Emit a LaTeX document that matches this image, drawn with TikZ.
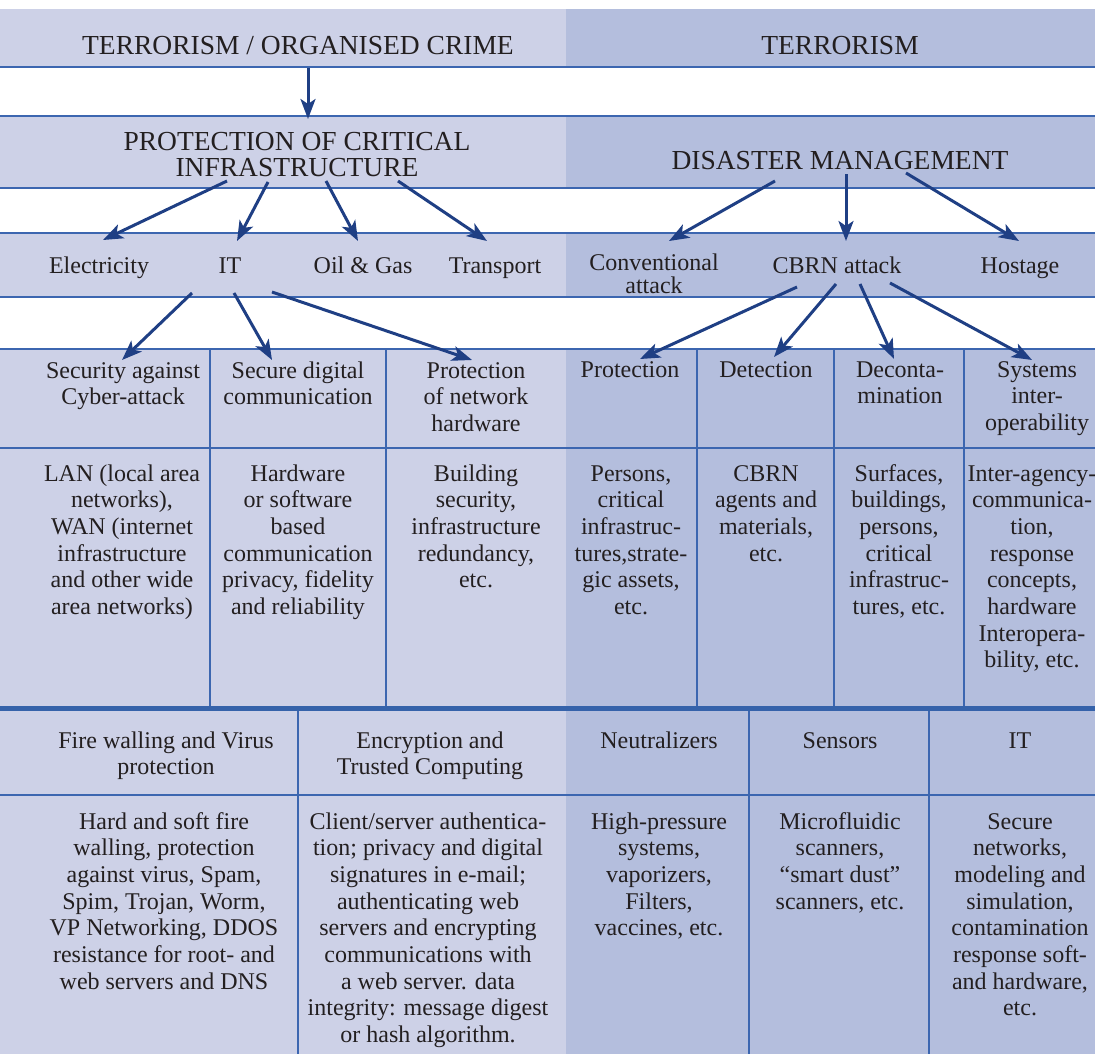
\documentclass[tikz,border=0pt]{standalone}
\usepackage{fontspec}
\setmainfont{Liberation Serif}
\usetikzlibrary{arrows.meta}
\definecolor{lightbg}{HTML}{CDD1E7}
\definecolor{darkbg}{HTML}{B4BEDD}
\definecolor{rulec}{HTML}{3C66B0}
\definecolor{thickc}{HTML}{3562AA}
\definecolor{arrowc}{HTML}{1F3F84}
\definecolor{ink}{HTML}{231F20}
\begin{document}
\begin{tikzpicture}[x=1pt,y=-1pt,
  hline/.style={draw=rulec, line width=1.4pt},
  thickline/.style={draw=thickc, line width=5pt},
  body/.style={font=\fontsize{24}{26.7}\selectfont, text=ink, align=center, inner sep=0pt, anchor=base},
  head/.style={font=\fontsize{27.5}{26}\selectfont, text=ink, align=center, inner sep=0pt, anchor=base},
  arr/.style={draw=arrowc, line width=3pt, -{Stealth[length=20pt,width=15pt,inset=5pt]}},
]
\useasboundingbox (0,0) rectangle (1095,1054);
% background bands
\fill[lightbg] (0,9) rectangle (566,67);
\fill[darkbg] (566,9) rectangle (1095,67);
\fill[lightbg] (0,116) rectangle (566,188);
\fill[darkbg] (566,116) rectangle (1095,188);
\fill[lightbg] (0,233) rectangle (566,297);
\fill[darkbg] (566,233) rectangle (1095,297);
\fill[lightbg] (0,349) rectangle (566,1054);
\fill[darkbg] (566,349) rectangle (1095,1054);
% rules
\foreach \yy in {67,116,188,233,297,349,448,795} \draw[hline] (0,\yy) -- (1095,\yy);
\foreach \xx in {210,386,697,834,964} \draw[hline] (\xx,349) -- (\xx,707);
\foreach \xx in {298,749,929} \draw[hline] (\xx,708) -- (\xx,1054);
\draw[thickline] (0,708.5) -- (1095,708.5);

% (multi-line nodes: anchor=base is the baseline of the last line)
% band 1
\node[head] (t1) at (298,55) {TERRORISM / ORGANISED CRIME};
\node[head] (t2) at (840,55) {TERRORISM};
% band 2
\node[head] (pci) at (297,176) {PROTECTION OF CRITICAL\\INFRASTRUCTURE};
\node[head] (dm) at (840,169) {DISASTER MANAGEMENT};
% band 3
\node[body] (elec) at (99,273) {Electricity};
\node[body] (it) at (230,273) {IT};
\node[body] (oil) at (363,273) {Oil \& Gas};
\node[body] (trans) at (495,273) {Transport};
\node[body, font=\fontsize{24}{23}\selectfont] (conv) at (654,293) {Conventional\\attack};
\node[body] (cbrn) at (837,273) {CBRN attack};
\node[body] (host) at (1020,273) {Hostage};
% band 4
\node[body] (sec) at (123,404.7) {Security against\\Cyber-attack};
\node[body] (sdc) at (298,404.7) {Secure digital\\communication};
\node[body] (pnh) at (476,431.4) {Protection\\of network\\hardware};
\node[body] (prot) at (630,377) {Protection};
\node[body] (det) at (766,377) {Detection};
\node[body] (dec) at (900,403.7) {Deconta-\\mination};
\node[body] (sys) at (1037,430.4) {Systems\\inter-\\operability};
% band 5
\node[body] (lan) at (122,614.5) {LAN (local area\\networks),\\WAN (internet\\infrastructure\\and other wide\\area networks)};
\node[body] (hw) at (298,614.5) {Hardware\\or software\\based\\communication\\privacy, fidelity\\and reliability};
\node[body] (bld) at (476,587.8) {Building\\security,\\infrastructure\\redundancy,\\etc.};
\node[body] (pers) at (631,614.5) {Persons,\\critical\\infrastruc-\\tures,strate-\\gic assets,\\etc.};
\node[body] (agents) at (766,561.1) {CBRN\\agents and\\materials,\\etc.};
\node[body] (surf) at (899,614.5) {Surfaces,\\buildings,\\persons,\\critical\\infrastruc-\\tures, etc.};
\node[body] (inter) at (1032,667.9) {Inter-agency-\\communica-\\tion,\\response\\concepts,\\hardware\\Interopera-\\bility, etc.};
% band 6
\node[body] (fw) at (166,774.7) {Fire walling and Virus\\protection};
\node[body] (enc) at (430,774.7) {Encryption and\\Trusted Computing};
\node[body] (neu) at (659,748) {Neutralizers};
\node[body] (sens) at (840,748) {Sensors};
\node[body] (it2) at (1020,748) {IT};
% band 7
\node[body] (fwd) at (164,989.2) {Hard and soft fire\\walling, protection\\against virus, Spam,\\Spim, Trojan, Worm,\\VP Networking, DDOS\\resistance for root- and\\web servers and DNS};
\node[body] (encd) at (428,1042.6) {Client/server authentica-\\tion; privacy and digital\\signatures in e-mail;\\authenticating web\\servers and encrypting\\communications with\\a web server. data\\integrity: message digest\\or hash algorithm.};
\node[body] (neud) at (659,935.8) {High-pressure\\systems,\\vaporizers,\\Filters,\\vaccines, etc.};
\node[body] (sensd) at (840,909.1) {Microfluidic\\scanners,\\“smart dust”\\scanners, etc.};
\node[body] (itd) at (1020,1015.9) {Secure\\networks,\\modeling and\\simulation,\\contamination\\response soft-\\and hardware,\\etc.};

% connector end points
\coordinate (t1-out) at (308,68);   \coordinate (pci-in) at (308,119);
\coordinate (pci-o1) at (227,181);  \coordinate (elec-in) at (103,240);
\coordinate (pci-o2) at (268,182);  \coordinate (it-in) at (237,241);
\coordinate (pci-o3) at (326,181);  \coordinate (oil-in) at (358,241);
\coordinate (pci-o4) at (398,181);  \coordinate (trans-in) at (487,241);
\coordinate (dm-o1) at (775,181);   \coordinate (conv-in) at (669,241);
\coordinate (dm-o2) at (846,174);   \coordinate (cbrn-in) at (846,241);
\coordinate (dm-o3) at (906,173);   \coordinate (host-in) at (1019,241);
\coordinate (it-o1) at (192,293);   \coordinate (sec-in) at (122,360);
\coordinate (it-o2) at (234,293);   \coordinate (sdc-in) at (272,360);
\coordinate (it-o3) at (272,292);   \coordinate (pnh-in) at (472,360);
\coordinate (cbrn-o1) at (797,287); \coordinate (prot-in) at (640,359);
\coordinate (cbrn-o2) at (836,284); \coordinate (det-in) at (774,357);
\coordinate (cbrn-o3) at (860,284); \coordinate (dec-in) at (894,359);
\coordinate (cbrn-o4) at (890,283); \coordinate (sys-in) at (1032,360);

\draw[arr] (t1-out) -- (pci-in);
\draw[arr] (pci-o1) -- (elec-in);
\draw[arr] (pci-o2) -- (it-in);
\draw[arr] (pci-o3) -- (oil-in);
\draw[arr] (pci-o4) -- (trans-in);
\draw[arr] (dm-o1) -- (conv-in);
\draw[arr] (dm-o2) -- (cbrn-in);
\draw[arr] (dm-o3) -- (host-in);
\draw[arr] (it-o1) -- (sec-in);
\draw[arr] (it-o2) -- (sdc-in);
\draw[arr] (it-o3) -- (pnh-in);
\draw[arr] (cbrn-o1) -- (prot-in);
\draw[arr] (cbrn-o2) -- (det-in);
\draw[arr] (cbrn-o3) -- (dec-in);
\draw[arr] (cbrn-o4) -- (sys-in);
\end{tikzpicture}
\end{document}
